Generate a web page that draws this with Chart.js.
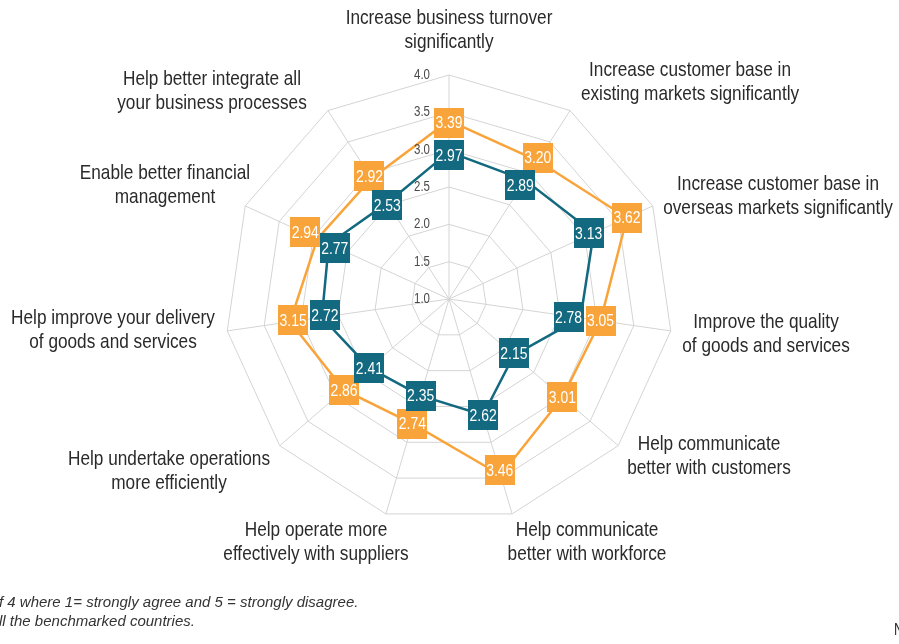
<!DOCTYPE html>
<html>
<head>
<meta charset="utf-8">
<script src="https://cdn.jsdelivr.net/npm/chart.js@4/dist/chart.umd.min.js"></script>
<style>
  html, body { margin: 0; padding: 0; background: #fff; }
  canvas { display: block; }
</style>
</head>
<body>
<canvas id="radar_grafica" width="899" height="644"></canvas>
<script>
const categorias = [
  ["Increase business turnover", "significantly"],
  ["Increase customer base in", "existing markets significantly"],
  ["Increase customer base in", "overseas markets significantly"],
  ["Improve the quality", "of goods and services"],
  ["Help communicate", "better with customers"],
  ["Help communicate", "better with workforce"],
  ["Help operate more", "effectively with suppliers"],
  ["Help undertake operations", "more efficiently"],
  ["Help improve your delivery", "of goods and services"],
  ["Enable better financial", "management"],
  ["Help better integrate all", "your business processes"],
];
const valores_naranja = [3.39, 3.20, 3.62, 3.05, 3.01, 3.46, 2.74, 2.86, 3.15, 2.94, 2.92];
const valores_azul = [2.97, 2.89, 3.13, 2.78, 2.15, 2.62, 2.35, 2.41, 2.72, 2.77, 2.53];
const ticks_eje = [1.0, 1.5, 2.0, 2.5, 3.0, 3.5, 4.0];

const NARANJA = "#f9a43a";
const AZUL = "#13697f";

// centro de cada bloque de texto de las categorias
const pos_etiquetas = [
  [449, 18], [690, 70], [778, 184], [766, 322], [709, 444], [587, 530],
  [316, 530], [169, 459], [113, 318], [165, 173], [212, 79],
];
// las cajas de valores estan movidas a mano en el original para no chocar
const desplaz_naranja = [
  [0, 2], [0, -3], [0, 0], [0, 0], [0, 0], [-1, -5],
  [0, 0], [0, 0], [3, -2], [-12, -7], [-2, -2],
];
const desplaz_azul = [
  [0, 3], [-5, 5], [-5, 0], [-12, -1], [0, -2], [0, 0],
  [0, 0], [0, 0], [3, -2], [6, 4], [0, 2],
];

function tieneFuente(nombre) {
  const c = document.createElement("canvas").getContext("2d");
  c.font = "40px monospace";
  const w1 = c.measureText("abcdefghilmw").width;
  c.font = `40px '${nombre}', monospace`;
  const w2 = c.measureText("abcdefghilmw").width;
  return Math.abs(w1 - w2) > 0.5;
}
const hayNarrow = tieneFuente("Liberation Sans Narrow");

function textoEstrecho(ctx, txt, x, y, size, align) {
  ctx.save();
  ctx.textAlign = align;
  ctx.textBaseline = "middle";
  if (hayNarrow) {
    ctx.font = `${size}px 'Liberation Sans Narrow'`;
    ctx.fillText(txt, x, y);
  } else {
    ctx.translate(x, y);
    ctx.scale(0.82, 1);
    ctx.font = `${size}px 'Liberation Sans', Arial, sans-serif`;
    ctx.fillText(txt, 0, 0);
  }
  ctx.restore();
}

const pluginTextos = {
  id: "textos",
  afterDatasetsDraw(chart) {
    const ctx = chart.ctx;
    const lado = 30;
    // cajas con los valores, encima de las lineas
    [[1, desplaz_naranja], [0, desplaz_azul]].forEach(([di, desp]) => {
      const ds = chart.data.datasets[di];
      const meta = chart.getDatasetMeta(di);
      meta.data.forEach((pt, i) => {
        const x = pt.x + desp[i][0];
        const y = pt.y + desp[i][1];
        ctx.fillStyle = ds.borderColor;
        ctx.fillRect(Math.round(x - lado / 2), Math.round(y - lado / 2), lado, lado);
        ctx.fillStyle = "#fff";
        textoEstrecho(ctx, ds.data[i].toFixed(2), x, y + 1, 17, "center");
      });
    });
  },
  afterDraw(chart) {
    const ctx = chart.ctx;
    const r = chart.scales.r;
    // ticks del eje
    ctx.fillStyle = "#4a4a4a";
    ticks_eje.forEach((t) => {
      const p = r.getPointPositionForValue(0, t);
      textoEstrecho(ctx, t.toFixed(1), r.xCenter - 19, p.y, 14, "right");
    });
    // categorias
    ctx.fillStyle = "#2a2a2a";
    categorias.forEach((lineas, i) => {
      const [x, y] = pos_etiquetas[i];
      lineas.forEach((l, j) => textoEstrecho(ctx, l, x, y + j * 24, 21, "center"));
    });
    // notas al pie (recortadas en el original)
    ctx.save();
    ctx.fillStyle = "#333";
    ctx.textAlign = "left";
    ctx.textBaseline = "middle";
    ctx.font = "italic 15px 'Liberation Sans', Arial, sans-serif";
    ctx.fillText("f 4 where 1= strongly agree and 5 = strongly disagree.", -1, 603);
    ctx.fillText("ll the benchmarked countries.", -1, 622);
    ctx.restore();
    textoEstrecho(ctx, "N", 894, 631, 16, "left");
  },
};

const ctx = document.getElementById("radar_grafica").getContext("2d");

new Chart(ctx, {
  type: "radar",
  data: {
    labels: categorias,
    datasets: [
      {
        label: "Azul",
        data: valores_azul,
        borderColor: AZUL,
        backgroundColor: AZUL,
        borderWidth: 2.5,
        fill: false,
        pointRadius: 0,
      },
      {
        label: "Naranja",
        data: valores_naranja,
        borderColor: NARANJA,
        backgroundColor: NARANJA,
        borderWidth: 2.5,
        fill: false,
        pointRadius: 0,
      },
    ],
  },
  options: {
    responsive: false,
    animation: false,
    layout: { padding: { top: 75, bottom: 121, left: 100, right: 100 } },
    plugins: {
      legend: { display: false },
      tooltip: { enabled: false },
    },
    scales: {
      r: {
        min: 1,
        max: 4,
        ticks: { stepSize: 0.5, display: false },
        pointLabels: { display: false },
        grid: { color: "#d4d4d4", lineWidth: 1 },
        angleLines: { color: "#d4d4d4", lineWidth: 1 },
      },
    },
  },
  plugins: [pluginTextos],
});
</script>
</body>
</html>
